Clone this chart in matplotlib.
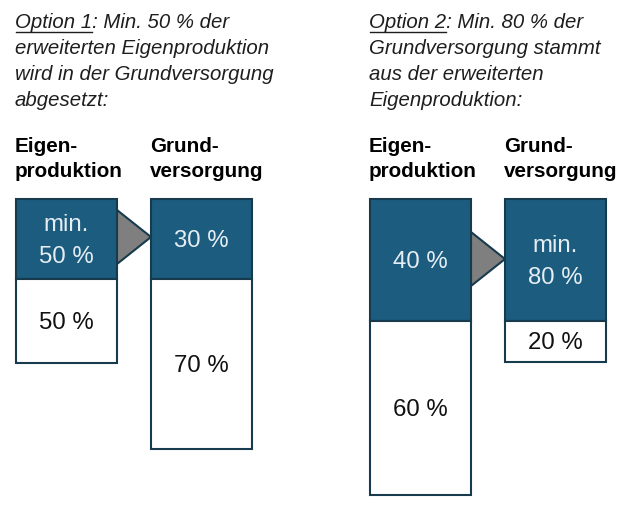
import matplotlib
matplotlib.use("Agg")
import matplotlib.pyplot as plt
from matplotlib.patches import Polygon

plt.rcParams['font.family'] = ['Liberation Sans', 'DejaVu Sans']

# ---- data ----
options = ["Option 1", "Option 2"]
title_rest = [
    [": Min. 50 % der", "erweiterten Eigenproduktion", "wird in der Grundversorgung", "abgesetzt:"],
    [": Min. 80 % der", "Grundversorgung stammt", "aus der erweiterten", "Eigenproduktion:"],
]
bar_headers = [["Eigen-\nproduktion", "Grund-\nversorgung"],
               ["Eigen-\nproduktion", "Grund-\nversorgung"]]
# volumes (arbitrary units): [dark segment, white segment]
vol_eigen = [[80, 84], [122, 174]]
vol_grund = [[80, 170], [122, 41]]
lab_eigen = [["min.\n50 %", "50 %"], ["40 %", "60 %"]]
lab_grund = [["30 %", "70 %"], ["min.\n80 %", "20 %"]]

DARK = "#1b5c7f"
EDGE = "#173a4d"
ARROW = "#7f7f7f"
LIGHT_TXT = "#e6eef3"

fig = plt.figure(figsize=(6.4, 5.1), dpi=100)
ax = fig.add_axes([0, 0, 1, 1])
ax.set_xlim(0, 640)
ax.set_ylim(510, 0)
ax.axis("off")

group_x = [16, 370]
bar_w = 101
gap = 34
top = 200

renderer = fig.canvas.get_renderer()
for g in range(2):
    x0 = group_x[g]
    x1 = x0 + bar_w + gap
    # title
    lines = [options[g] + title_rest[g][0]] + title_rest[g][1:]
    for i, ln in enumerate(lines):
        ax.text(x0 - 1, 23 + i * 25.7, ln, fontsize=14.7, style="italic",
                color="#1e1e1e", va="center", ha="left")
    tmp = ax.text(x0 - 1, 23, options[g], fontsize=14.7, style="italic",
                  va="center", ha="left")
    bb = tmp.get_window_extent(renderer)
    inv = ax.transData.inverted()
    (ux0, _), (ux1, _) = inv.transform([[bb.x0, 0], [bb.x1, 0]])
    tmp.remove()
    ax.plot([ux0 + 1, ux1], [32.5, 32.5], color="#1e1e1e", lw=1.0)
    # headers
    for xb, hdr in zip([x0, x1], bar_headers[g]):
        ax.text(xb - 1, 159, hdr, fontsize=14.9, fontweight="bold",
                color="black", va="center", ha="left", linespacing=1.38)
    # bars
    for xb, vols, labs in [(x0, vol_eigen[g], lab_eigen[g]),
                           (x1, vol_grund[g], lab_grund[g])]:
        ax.bar(xb, vols[0], bottom=top, width=bar_w, align="edge",
               color=DARK, edgecolor=EDGE, lw=1.5, zorder=2)
        ax.bar(xb, vols[1], bottom=top + vols[0], width=bar_w, align="edge",
               color="white", edgecolor=EDGE, lw=1.5, zorder=2)
        ax.text(xb + bar_w / 2, top + vols[0] / 2 + 1, labs[0], fontsize=17.3,
                color=LIGHT_TXT, ha="center", va="center", linespacing=1.55,
                zorder=3)
        ax.text(xb + bar_w / 2, top + vols[0] + vols[1] / 2 + 1, labs[1],
                fontsize=17.3, color="#111111", ha="center", va="center",
                zorder=3)
    # arrow between bars
    d = vol_eigen[g][0]
    cy = top + d / 2 - 2 if g == 0 else top + 60
    half = 27
    tri = Polygon([[x0 + bar_w, cy - half], [x0 + bar_w, cy + half],
                   [x1, cy]], closed=True, facecolor=ARROW, edgecolor=EDGE,
                  lw=1.5, zorder=1)
    ax.add_patch(tri)

fig.savefig("out.png", dpi=100)
